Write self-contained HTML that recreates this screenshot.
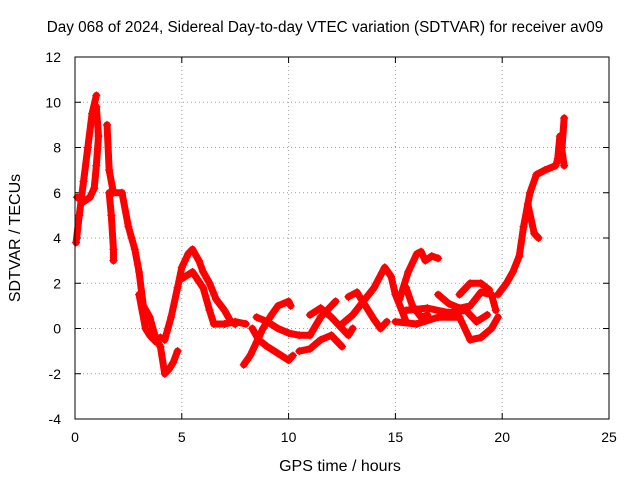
<!DOCTYPE html>
<html>
<head>
<meta charset="utf-8">
<style>
html,body{margin:0;padding:0;background:#fff;}
svg{display:block;font-family:"Liberation Sans",sans-serif;}
</style>
</head>
<body>
<svg id="chart" width="640" height="480">
  <text x="325" y="32" font-size="15.3" text-anchor="middle">Day 068 of 2024, Sidereal Day-to-day VTEC variation (SDTVAR) for receiver av09</text>
  <text x="340" y="471" font-size="16" text-anchor="middle">GPS time / hours</text>
  <text x="20" y="238" font-size="16" text-anchor="middle" transform="rotate(-90 20 238)">SDTVAR / TECUs</text>
  <g id="grid"></g>
  <g id="ticks"></g>
  <g id="series"></g>
  <rect x="75" y="57" width="534" height="362" fill="none" stroke="#000" stroke-width="1"/>
</svg>
<script>
const xTicks = [0,5,10,15,20,25];
const yTicks = [-4,-2,0,2,4,6,8,10,12];
const trackA = [[0.05,3.8],[0.2,5],[0.4,6.5],[0.6,8],[0.8,9.5],[1.0,10.3]];
const trackB = [[0.1,5.8],[0.4,5.6],[0.7,5.8],[0.9,6.2],[1.0,7.2],[1.1,8.5],[1.0,9.8]];
const trackC = [[1.5,9],[1.6,7],[1.8,6],[2.2,6],[2.5,4.5],[2.8,3.5],[3.0,2.5],[3.2,1],[3.5,0.5],[3.8,-0.5],[4.0,-0.8],[4.2,-2],[4.4,-1.8],[4.6,-1.5],[4.8,-1.0]];
const trackD = [[1.6,6],[1.7,5],[1.8,3.5],[1.8,3.0]];
const trackE = [[3.0,1.5],[3.3,0],[3.5,-0.3],[3.8,-0.6],[4.0,-0.4]];
const trackF = [[4.2,-0.5],[4.5,0.5],[4.8,1.8],[5.0,2.7],[5.3,3.3],[5.5,3.5],[5.8,3.0],[6.0,2.5],[6.3,2],[6.6,1.3],[7.0,0.8],[7.3,0.3],[7.5,0.2]];
const trackG = [[5.0,2.2],[5.5,2.5],[6.0,1.8],[6.3,0.8],[6.5,0.2],[7.0,0.2],[7.5,0.3],[8.0,0.2]];
const trackH = [[7.9,-1.6],[8.2,-1.2],[8.5,-0.6],[8.8,0],[9.2,0.6],[9.5,1.0],[10.0,1.2],[10.1,1.0]];
const trackI = [[8.3,0],[8.6,-0.5],[9,-0.8],[9.5,-1.1],[10,-1.4],[10.2,-1.2]];
const trackJ = [[8.5,0.5],[9.0,0.3],[9.5,0],[10,-0.2],[10.5,-0.3],[11,-0.3],[11.5,0.5],[12,1],[12.2,1.2]];
const trackK = [[11,0.6],[11.5,0.9],[12,0.5],[12.5,0],[12.8,-0.3],[13,0]];
const trackL = [[10.5,-1],[11,-0.9],[11.5,-0.5],[12,-0.3],[12.5,-0.8]];
const trackM = [[12.5,0.2],[13,0.6],[13.5,1.2],[14,1.8],[14.5,2.7],[14.8,2.3],[15,1.5],[15.3,0.8],[15.5,0.3]];
const trackN = [[12.8,1.4],[13.2,1.6],[13.6,1.0],[14,0.4],[14.3,0.0],[14.6,0.3]];
const trackO = [[15.2,1.3],[15.6,2.5],[16,3.3],[16.2,3.4],[16.4,3.0],[16.7,3.2],[17,3.1]];
const trackP = [[15.5,1.8],[15.8,1.0],[16.2,0.5],[16.5,0.6]];
const trackQ = [[15,0.3],[16,0.2],[17,0.5],[18,0.5],[18.5,-0.5],[19,-0.4],[19.5,0],[19.8,0.5]];
const trackR = [[17,1.5],[17.5,1.1],[18,0.9],[18.5,1.0],[19,1.6],[19.5,1.5],[19.7,0.8]];
const trackS = [[18,1.5],[18.5,2],[19,2],[19.4,1.7]];
const trackT = [[19.8,1.5],[20.2,2],[20.5,2.5],[20.8,3.2],[21,4.5],[21.3,6],[21.6,6.8],[22,7],[22.5,7.2],[22.8,8],[22.9,9.3]];
const trackU = [[21.2,5.5],[21.5,4.2],[21.7,4]];
const trackV = [[22.6,7.5],[22.7,8.5],[22.9,7.2]];
const trackW = [[15.5,0.8],[16.5,0.9],[17.5,0.7],[18.3,0.8],[18.8,0.3],[19.3,0.6]];
const tracks = [trackA,trackB,trackC,trackD,trackE,trackF,trackG,trackH,trackI,trackJ,trackK,trackL,trackM,trackN,trackO,trackP,trackQ,trackR,trackS,trackT,trackU,trackV,trackW];

const NS = "http://www.w3.org/2000/svg";
const X0=75, X1=609, Y0=419, Y1=57;
function xs(v){return X0+(v-0)/(25-0)*(X1-X0);}
function ys(v){return Y0-(v+4)/(12+4)*(Y0-Y1);}
function mk(tag,attrs,parent){const e=document.createElementNS(NS,tag);for(const k in attrs)e.setAttribute(k,attrs[k]);parent.appendChild(e);return e;}

const grid=document.getElementById('grid'), ticks=document.getElementById('ticks'), series=document.getElementById('series');
xTicks.forEach(t=>{
  const x=xs(t);
  if(t>0&&t<25){const g=mk('line',{x1:x,x2:x,y1:Y0,y2:Y1,stroke:'#a0a0a0','stroke-dasharray':'1,3'},grid);
  
  }
  mk('line',{x1:x,x2:x,y1:Y0,y2:Y0-6,stroke:'#000'},ticks);
  mk('line',{x1:x,x2:x,y1:Y1,y2:Y1+6,stroke:'#000'},ticks);
  const l=mk('text',{x:x,y:Y0+23,'font-size':14,'text-anchor':'middle'},ticks);
  l.textContent=t;
  
  
});
yTicks.forEach(t=>{
  const y=ys(t);
  if(t>-4&&t<12){const g=mk('line',{x1:X0,x2:X1,y1:y,y2:y,stroke:'#a0a0a0','stroke-dasharray':'1,3'},grid);
  
  }
  mk('line',{x1:X0,x2:X0+6,y1:y,y2:y,stroke:'#000'},ticks);
  mk('line',{x1:X1,x2:X1-6,y1:y,y2:y,stroke:'#000'},ticks);
  const l=mk('text',{x:X0-14,y:y+5,'font-size':14,'text-anchor':'end'},ticks);
  l.textContent=t;
  
  
});
tracks.forEach(tr=>{
  const pts=tr.map(p=>xs(p[0])+','+ys(p[1])).join(' ');
  const pl=mk('polyline',{points:pts,fill:'none',stroke:'#ff0000','stroke-width':7,'stroke-linejoin':'round','stroke-linecap':'round'},series);
  
  
  tr.forEach(p=>{
    const x=xs(p[0]),y=ys(p[1]);
    const m=mk('path',{d:`M${x-4},${y}H${x+4}M${x},${y-4}V${y+4}`,stroke:'#ff0000','stroke-width':1.2},series);
    
    
  });
});
</script>
</body>
</html>
